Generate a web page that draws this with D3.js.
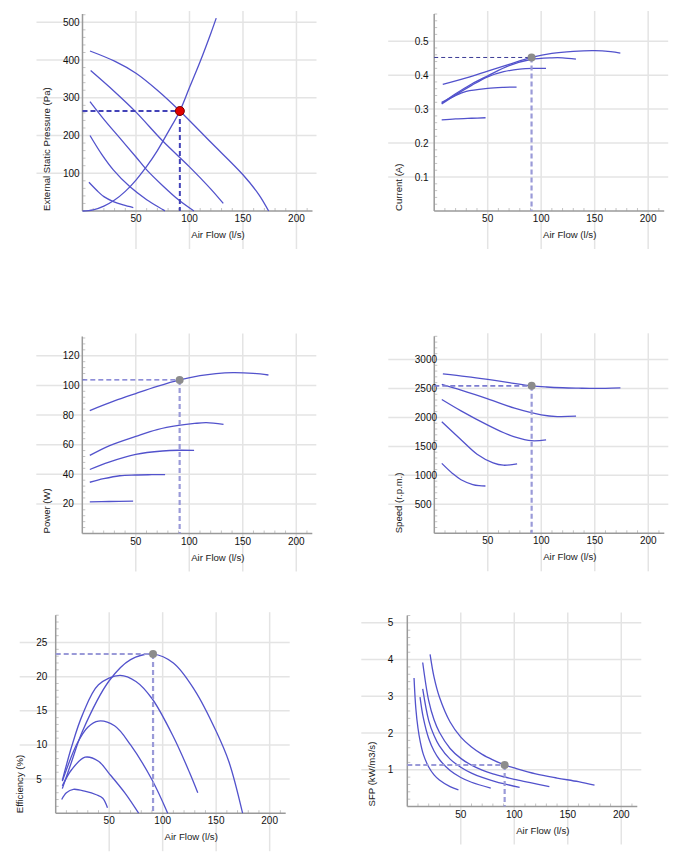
<!DOCTYPE html>
<html>
<head>
<meta charset="utf-8">
<script src="https://cdn.jsdelivr.net/npm/d3@7"></script>
<style>
    body { margin: 0; background: #ffffff; }
    text { font-family: Arial, "Liberation Sans", sans-serif; font-size: 10px; fill: #111; }
    text.title { font-size: 9.6px; fill: #222; }
</style>
</head>
<body>
<div id="charts"></div>
<script>
// Values (flow in l/s)
const flowTicks = [50, 100, 150, 200];

const dutyFlow = 91;
const dutyPressure = 265,
    dutyCurrent = 0.452,
    dutyPower = 103.7,
    dutySpeed = 2545,
    dutyEfficiency = 23.3,
    dutySfp = 1.13;

const systemCurve = [[0, 0], [10, 3], [20, 13], [30, 29], [40, 52], [50, 82], [60, 118], [70, 160],
    [80, 209], [91, 265], [100, 327], [110, 396], [120, 471], [125, 511]];

const pressureCurves = [
    [[7, 424], [30, 397], [50, 365], [70, 320], [91, 265], [120, 182], [150, 96], [165, 43], [174, 0]],
    [[7.6, 372], [30, 316], [50, 262], [75.5, 184], [100, 117], [120, 58], [131.6, 20]],
    [[7, 290], [20, 243], [35, 193], [50, 143], [60, 109], [75, 67], [90, 29], [104.2, 0]],
    [[7, 200], [18, 150], [28.8, 109], [44.4, 64], [60, 30], [75.5, 3], [77, 0]],
    [[6, 76], [15, 50], [20, 38], [28.8, 25], [38, 16], [47.5, 9]]
];

const currentCurves = [
    [[8, 0.373], [30, 0.392], [50, 0.412], [70, 0.432], [91, 0.452], [110, 0.464], [130, 0.470], [150, 0.472], [165, 0.469], [174, 0.465]],
    [[7, 0.317], [20, 0.345], [35, 0.374], [50, 0.398], [70, 0.428], [90, 0.446], [110, 0.451], [120, 0.451], [132.5, 0.447]],
    [[7, 0.315], [20, 0.342], [35, 0.370], [50, 0.395], [65, 0.410], [80, 0.418], [95, 0.420], [104.5, 0.420]],
    [[7, 0.320], [18, 0.337], [30, 0.352], [50, 0.361], [65, 0.364], [77, 0.365]],
    [[7, 0.268], [20, 0.271], [35, 0.273], [48, 0.2745]]
];

const powerCurves = [
    [[7, 83], [30, 89.5], [50, 94.5], [70, 99.3], [91, 103.7], [110, 106.6], [125, 108], [141, 108.6], [160, 108.1], [174, 107]],
    [[7, 52.7], [25, 59.2], [50, 65.6], [70, 70.2], [90, 73], [105, 74.3], [116, 74.8], [132, 73.7]],
    [[7, 43.2], [25, 48.2], [50, 53.4], [75, 55.7], [90, 56.2], [104.5, 56.1]],
    [[7, 34.6], [20, 37], [35, 39], [50, 39.5], [65, 39.7], [77.4, 39.8]],
    [[7, 21.3], [25, 21.6], [47.5, 21.8]]
];

const speedCurves = [
    [[8, 2752], [30, 2705], [50, 2655], [70, 2600], [91, 2545], [105, 2525], [120, 2512], [135, 2505], [150, 2500], [160, 2502], [174, 2510]],
    [[7, 2569], [25, 2470], [50, 2320], [75, 2160], [100, 2045], [115, 2015], [132.5, 2022]],
    [[7, 2310], [25, 2114], [50, 1867], [65, 1735], [75, 1665], [91, 1598], [104.5, 1614]],
    [[7, 1925], [25, 1615], [40, 1365], [55, 1215], [64.6, 1175], [77.4, 1200]],
    [[7, 1207], [17, 1034], [25, 925], [36, 842], [42, 822], [47.8, 816]]
];

const efficiencyCurves = [
    [[6.2, 3.6], [15, 7.6], [25, 12], [50, 19.4], [70, 22.5], [91, 23.3], [110, 22], [130, 18], [150, 12], [162, 7.5], [174.7, 0]],
    [[6.2, 4.8], [15, 9.8], [25, 14.4], [40, 18.8], [60, 20.2], [75, 19.3], [90, 16.8], [110, 11.2], [125, 6], [132.8, 3]],
    [[6.2, 4.7], [20, 10.2], [30, 12.6], [40, 13.5], [55, 12.8], [70, 10], [90, 4.9], [104.7, 0]],
    [[6.2, 4], [15, 6.4], [27.5, 8.2], [40, 7.6], [50, 5.8], [65, 2.9], [77.5, 0]],
    [[5.6, 2], [10, 3], [16.5, 3.5], [28, 3.2], [38, 2.7], [44, 2.2], [48.4, 0.8]]
];

const sfpCurves = [
    [[21.3, 4.14], [25, 3.52], [30, 2.98], [40, 2.30], [50, 1.89], [60, 1.62], [70, 1.42], [80, 1.27], [91, 1.13], [100, 1.05], [120, 0.89], [140, 0.775], [160, 0.675], [175, 0.58]],
    [[14.4, 3.92], [20, 2.88], [25, 2.36], [30, 2.02], [40, 1.58], [50, 1.31], [60, 1.125], [70, 0.99], [80, 0.89], [90, 0.81], [100, 0.74], [115, 0.65], [132.8, 0.54]],
    [[14.4, 3.2], [20, 2.34], [25, 1.93], [30, 1.65], [40, 1.29], [50, 1.07], [60, 0.91], [70, 0.79], [80, 0.70], [90, 0.62], [105, 0.52]],
    [[11.9, 2.98], [15, 2.41], [20, 1.85], [25, 1.51], [30, 1.28], [40, 0.98], [50, 0.79], [60, 0.66], [78, 0.5]],
    [[6.3, 3.5], [8, 2.66], [10, 2.13], [12, 1.78], [15, 1.42], [20, 1.075], [25, 0.86], [30, 0.72], [40, 0.54], [47.8, 0.45]]
];

const svg = d3.select("#charts").append("svg")
    .attr("width", 694)
    .attr("height", 858);

const curveColor = "#5252cc";

function drawPanel(cfg) {
    const g = svg.append("g").attr("transform", "translate(" + cfg.ox + "," + cfg.oy + ")");
    const w = 230, h = cfg.h;

    const x = d3.scaleLinear().domain([0, 215]).range([0, w]);
    const y = d3.scaleLinear().domain([0, cfg.yMax]).range([0, -h]);

    // grid
    g.selectAll(".hgrid").data(cfg.yTicks).join("line")
        .attr("x1", cfg.gridLeft).attr("x2", w + 4)
        .attr("y1", d => y(d)).attr("y2", d => y(d))
        .attr("stroke", "#e4e4e4").attr("stroke-width", 1.5);
    g.selectAll(".vgrid").data(flowTicks).join("line")
        .attr("x1", d => x(d)).attr("x2", d => x(d))
        .attr("y1", -h - 3).attr("y2", 38)
        .attr("stroke", "#e4e4e4").attr("stroke-width", 1.5);

    // minor ticks
    const yMinor = d3.range(1, Math.floor(cfg.yMax / cfg.minor + 1e-6) + 1)
        .map(i => i * cfg.minor)
        .filter(v => !cfg.yTicks.some(t => Math.abs(t - v) < cfg.minor / 10));
    g.selectAll(".yminor").data(yMinor).join("line")
        .attr("x1", 0).attr("x2", 3)
        .attr("y1", d => y(d)).attr("y2", d => y(d))
        .attr("stroke", "#c4c4c4").attr("stroke-width", 1);
    const xMinor = d3.range(10, 215, 10).filter(v => v % 50 !== 0);
    g.selectAll(".xminor").data(xMinor).join("line")
        .attr("x1", d => x(d)).attr("x2", d => x(d))
        .attr("y1", 0).attr("y2", -3)
        .attr("stroke", "#c4c4c4").attr("stroke-width", 1);

    // axis lines
    g.append("line").attr("x1", 0).attr("x2", 0).attr("y1", -h).attr("y2", 0)
        .attr("stroke", "#9a9a9a").attr("stroke-width", 1.5);
    g.append("line").attr("x1", 0).attr("x2", w).attr("y1", 0).attr("y2", 0)
        .attr("stroke", "#9a9a9a").attr("stroke-width", 1.5);

    // tick labels
    g.selectAll(".ylab").data(cfg.yTicks).join("text")
        .attr("x", -19.5).attr("y", d => y(d))
        .attr("dominant-baseline", "central")
        .text(d => cfg.fmt(d));
    g.selectAll(".xlab").data(flowTicks).join("text")
        .attr("x", d => x(d)).attr("y", 11)
        .attr("text-anchor", "middle")
        .text(d => d);

    // titles
    g.append("text")
        .classed("title", true)
        .attr("x", 135.5).attr("y", 27)
        .attr("text-anchor", "middle")
        .text("Air Flow (l/s)");
    g.append("text")
        .classed("title", true)
        .attr("transform", "translate(-36,0) rotate(-90)")
        .attr("dominant-baseline", "central")
        .text(cfg.title);

    // curves
    const line = d3.line()
        .x(d => x(d[0]))
        .y(d => y(d[1]))
        .curve(d3.curveCatmullRom.alpha(0.5));
    g.selectAll(".curve").data(cfg.curves).join("path")
        .attr("d", line)
        .attr("fill", "none")
        .attr("stroke", curveColor)
        .attr("stroke-width", 1.3);

    // duty point guides
    g.append("line")
        .attr("x1", 0).attr("x2", x(dutyFlow))
        .attr("y1", y(cfg.duty)).attr("y2", y(cfg.duty))
        .attr("stroke", cfg.hColor).attr("stroke-width", cfg.hWidth)
        .attr("stroke-dasharray", cfg.hDash);
    g.append("line")
        .attr("x1", x(dutyFlow)).attr("x2", x(dutyFlow))
        .attr("y1", y(cfg.duty)).attr("y2", 0)
        .attr("stroke", cfg.vColor).attr("stroke-width", cfg.vWidth)
        .attr("stroke-dasharray", "5,3");
    g.append("circle")
        .attr("cx", x(dutyFlow)).attr("cy", y(cfg.duty))
        .attr("r", cfg.red ? 4.5 : 4)
        .attr("fill", cfg.red ? "#e00000" : "#8c8c8c")
        .attr("stroke", cfg.red ? "#7a0000" : "none")
        .attr("stroke-width", 1);
    return g;
}

const light = "#9a9ad8";

drawPanel({
    ox: 82.5, oy: 211, h: 197, yMax: 522, minor: 20, gridLeft: -46,
    yTicks: [100, 200, 300, 400, 500], fmt: d => d,
    title: "External Static Pressure (Pa)",
    curves: pressureCurves.concat([systemCurve]),
    duty: dutyPressure, red: true,
    hColor: "#4343b8", hWidth: 2, hDash: "5,3", vColor: "#4343b8", vWidth: 2
});

drawPanel({
    ox: 434.2, oy: 211, h: 197, yMax: 0.58, minor: 0.02, gridLeft: -46,
    yTicks: [0.1, 0.2, 0.3, 0.4, 0.5], fmt: d => d.toFixed(1),
    title: "Current (A)",
    curves: currentCurves,
    duty: dutyCurrent,
    hColor: "#3c3c96", hWidth: 1, hDash: "4,3", vColor: light, vWidth: 2.2
});

drawPanel({
    ox: 82.3, oy: 533.5, h: 197, yMax: 133, minor: 4, gridLeft: -46,
    yTicks: [20, 40, 60, 80, 100, 120], fmt: d => d,
    title: "Power (W)",
    curves: powerCurves,
    duty: dutyPower,
    hColor: "#6a6acc", hWidth: 1.4, hDash: "5,3", vColor: light, vWidth: 2.2
});

drawPanel({
    ox: 434.3, oy: 533.3, h: 197, yMax: 3400, minor: 100, gridLeft: -46,
    yTicks: [500, 1000, 1500, 2000, 2500, 3000], fmt: d => d,
    title: "Speed (r.p.m.)",
    curves: speedCurves,
    duty: dutySpeed,
    hColor: "#7c7cd0", hWidth: 1.8, hDash: "5,3", vColor: light, vWidth: 2.2
});

drawPanel({
    ox: 55.7, oy: 813.2, h: 198, yMax: 29, minor: 1, gridLeft: -36,
    yTicks: [5, 10, 15, 20, 25], fmt: d => d,
    title: "Efficiency (%)",
    curves: efficiencyCurves,
    duty: dutyEfficiency,
    hColor: light, hWidth: 2, hDash: "5,3", vColor: light, vWidth: 2.2
});

drawPanel({
    ox: 407.3, oy: 806.5, h: 191, yMax: 5.2, minor: 0.2, gridLeft: -46,
    yTicks: [1, 2, 3, 4, 5], fmt: d => d,
    title: "SFP (kW/m3/s)",
    curves: sfpCurves,
    duty: dutySfp,
    hColor: light, hWidth: 2, hDash: "5,3", vColor: light, vWidth: 2.2
});
</script>
</body>
</html>
